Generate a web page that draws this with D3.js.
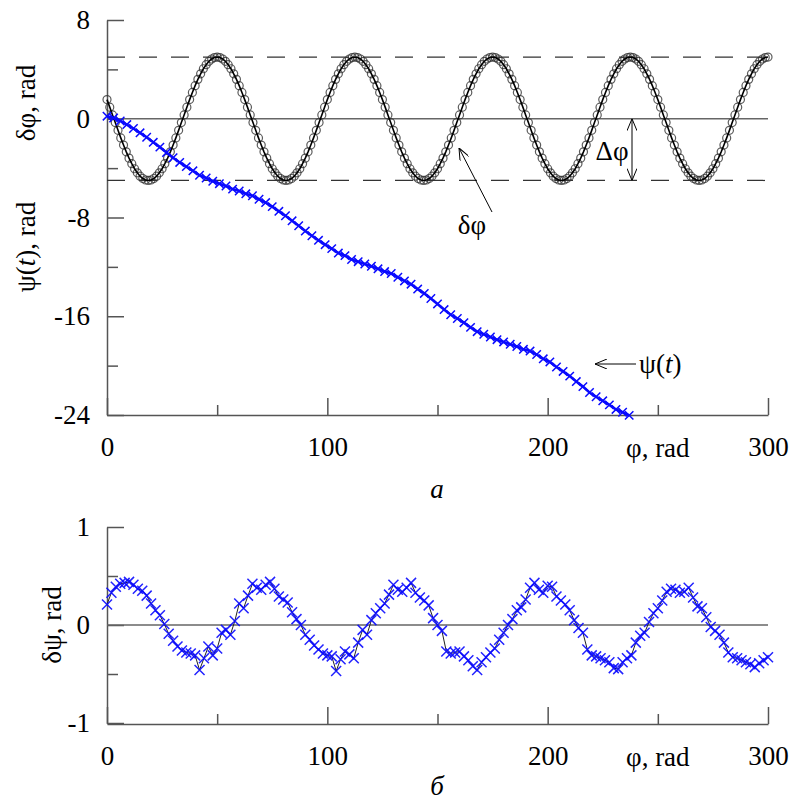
<!DOCTYPE html>
<html>
<head>
<meta charset="utf-8">
<script src="https://cdn.jsdelivr.net/npm/d3@7"></script>
<style>
  body { margin: 0; background: #fff; }
</style>
</head>
<body>
<div id="chart"></div>
<script>
// --- data ---

// delta phi, sampled every 1.25 rad from 0 to 300
var dphi = [
  1.55,0.94,0.31,-0.31,-0.94,-1.55,-2.13,-2.68,-3.19,-3.64,-4.05,-4.38,-4.65,-4.84,-4.96,-5.00,-4.96,-4.84,-4.65,-4.38,
  -4.05,-3.64,-3.19,-2.68,-2.13,-1.55,-0.94,-0.31,0.31,0.94,1.55,2.13,2.68,3.19,3.64,4.05,4.38,4.65,4.84,4.96,
  5.00,4.96,4.84,4.65,4.38,4.05,3.64,3.19,2.68,2.13,1.55,0.94,0.31,-0.31,-0.94,-1.55,-2.13,-2.68,-3.19,-3.64,
  -4.05,-4.38,-4.65,-4.84,-4.96,-5.00,-4.96,-4.84,-4.65,-4.38,-4.05,-3.64,-3.19,-2.68,-2.13,-1.55,-0.94,-0.31,0.31,0.94,
  1.55,2.13,2.68,3.19,3.64,4.05,4.38,4.65,4.84,4.96,
  5.00,4.96,4.84,4.65,4.38,4.05,3.64,3.19,2.68,2.13,1.55,0.94,0.31,-0.31,-0.94,-1.55,-2.13,-2.68,-3.19,-3.64,
  -4.05,-4.38,-4.65,-4.84,-4.96,-5.00,-4.96,-4.84,-4.65,-4.38,-4.05,-3.64,-3.19,-2.68,-2.13,-1.55,-0.94,-0.31,0.31,0.94,
  1.55,2.13,2.68,3.19,3.64,4.05,4.38,4.65,4.84,4.96,
  5.00,4.96,4.84,4.65,4.38,4.05,3.64,3.19,2.68,2.13,1.55,0.94,0.31,-0.31,-0.94,-1.55,-2.13,-2.68,-3.19,-3.64,
  -4.05,-4.38,-4.65,-4.84,-4.96,-5.00,-4.96,-4.84,-4.65,-4.38,-4.05,-3.64,-3.19,-2.68,-2.13,-1.55,-0.94,-0.31,0.31,0.94,
  1.55,2.13,2.68,3.19,3.64,4.05,4.38,4.65,4.84,4.96,
  5.00,4.96,4.84,4.65,4.38,4.05,3.64,3.19,2.68,2.13,1.55,0.94,0.31,-0.31,-0.94,-1.55,-2.13,-2.68,-3.19,-3.64,
  -4.05,-4.38,-4.65,-4.84,-4.96,-5.00,-4.96,-4.84,-4.65,-4.38,-4.05,-3.64,-3.19,-2.68,-2.13,-1.55,-0.94,-0.31,0.31,0.94,
  1.55,2.13,2.68,3.19,3.64,4.05,4.38,4.65,4.84,4.96,
  5.00
];
var dphiStep = 1.25;

// psi(t), every 3 rad from 0 to 237
var psi = [
  0.21,0.06,-0.18,-0.47,-0.79,-1.14,-1.50,-1.91,-2.30,-2.74,
  -3.16,-3.54,-3.88,-4.22,-4.58,-4.80,-5.06,-5.26,-5.45,-5.70,
  -5.85,-6.08,-6.24,-6.52,-6.79,-7.12,-7.50,-7.86,-8.27,-8.67,
  -9.10,-9.48,-9.85,-10.20,-10.52,-10.88,-11.09,-11.40,-11.58,-11.77,
  -11.95,-12.16,-12.38,-12.54,-12.84,-13.14,-13.40,-13.80,-14.15,-14.56,
  -15.00,-15.46,-15.88,-16.18,-16.52,-16.90,-17.25,-17.46,-17.68,-17.90,
  -18.08,-18.27,-18.45,-18.68,-18.82,-19.10,-19.45,-19.70,-20.11,-20.47,
  -20.85,-21.29,-21.70,-22.18,-22.52,-22.85,-23.18,-23.55,-23.78,-24.03
];
var psiStep = 3;

// delta psi, every 2 rad from 0 to 300
var dpsi = [
  0.21,0.33,0.39,0.42,0.43,0.44,0.41,0.37,0.35,0.30,
  0.22,0.15,0.10,0.01,-0.09,-0.16,-0.22,-0.26,-0.28,-0.29,
  -0.31,-0.46,-0.34,-0.22,-0.31,-0.24,-0.08,-0.05,-0.10,0.04,
  0.22,0.17,0.30,0.42,0.38,0.36,0.41,0.44,0.37,0.29,
  0.26,0.23,0.13,0.06,0.00,-0.10,-0.15,-0.21,-0.25,-0.29,
  -0.31,-0.32,-0.47,-0.35,-0.27,-0.30,-0.34,-0.18,-0.05,-0.10,
  0.05,0.12,0.17,0.22,0.31,0.41,0.36,0.34,0.38,0.43,
  0.33,0.28,0.25,0.20,0.07,0.00,-0.06,-0.27,-0.29,-0.28,
  -0.27,-0.32,-0.36,-0.42,-0.46,-0.38,-0.33,-0.28,-0.24,-0.15,
  -0.08,0.00,0.06,0.15,0.18,0.26,0.38,0.43,0.36,0.33,
  0.40,0.39,0.29,0.25,0.21,0.15,0.05,-0.03,-0.08,-0.25,
  -0.31,-0.32,-0.34,-0.36,-0.38,-0.44,-0.45,-0.38,-0.34,-0.31,
  -0.18,-0.11,-0.08,0.03,0.12,0.17,0.25,0.34,0.37,0.36,
  0.33,0.34,0.38,0.28,0.19,0.17,0.08,-0.02,-0.06,-0.10,
  -0.18,-0.28,-0.33,-0.34,-0.36,-0.38,-0.40,-0.43,-0.39,-0.36,
  -0.33
];
var dpsiStep = 2;

var xTicksMajor = [0, 100, 200, 300],
    xTicksMinor = [50, 150, 250];
var yTopMajor = [8, 0, -8, -16, -24],
    yTopMinor = [4, -4, -12, -20];
var yBotMajor = [1, 0, -1],
    yBotMinor = [0.5, -0.5];
var bounds = [-5, 5];   // dashed lines

// --- drawing ---
var w = 792, h = 808,
    serif = "'Liberation Serif', 'Times New Roman', 'DejaVu Serif', serif",
    fontSize = 27,
    blue = "#0a0aff";

var svg = d3.select("#chart").append("svg")
    .attr("width", w)
    .attr("height", h)
    .attr("font-family", serif);

var defs = svg.append("defs");
defs.append("marker")
    .attr("id", "arr")
    .attr("viewBox", "0 0 12 10")
    .attr("refX", 12).attr("refY", 5)
    .attr("markerWidth", 12).attr("markerHeight", 10)
    .attr("markerUnits", "userSpaceOnUse")
    .attr("orient", "auto-start-reverse")
    .append("path")
    .attr("d", "M0,0 L12,5 L0,10")
    .attr("fill", "none")
    .attr("stroke", "#000")
    .attr("stroke-width", 1);

var x = d3.scaleLinear().domain([0, 300]).range([107, 768]);
var yTop = d3.scaleLinear().domain([-24, 8]).range([415, 20]);
var yBot = d3.scaleLinear().domain([-1, 1]).range([723, 527]);

function styleAxis(g) {
    g.attr("font-family", serif).attr("font-size", fontSize);
    g.selectAll("text").attr("fill", "#000");
    g.selectAll("path, line").attr("stroke", "#555").attr("stroke-width", 1.5);
}
function fmt(d) { return String(d); }

function cross(px, py, a) {
    return "M" + (px - a) + "," + (py - a) + "L" + (px + a) + "," + (py + a) +
           "M" + (px - a) + "," + (py + a) + "L" + (px + a) + "," + (py - a);
}

function drawAxes(y, yMajor, yMinor, axisY) {
    // y axis
    svg.append("g")
        .attr("transform", "translate(107,0)")
        .call(d3.axisLeft(y).tickValues(yMajor).tickFormat(fmt)
              .tickSizeInner(-17).tickSizeOuter(0).tickPadding(17))
        .call(styleAxis);
    svg.append("g")
        .attr("transform", "translate(107,0)")
        .call(d3.axisLeft(y).tickValues(yMinor).tickFormat("")
              .tickSizeInner(-11).tickSizeOuter(0))
        .call(styleAxis)
        .select(".domain").remove();
    // x axis
    svg.append("g")
        .attr("transform", "translate(0," + axisY + ")")
        .call(d3.axisBottom(x).tickValues(xTicksMajor).tickFormat(fmt)
              .tickSizeInner(-17).tickSizeOuter(0).tickPadding(22))
        .call(styleAxis);
    svg.append("g")
        .attr("transform", "translate(0," + axisY + ")")
        .call(d3.axisBottom(x).tickValues(xTicksMinor).tickFormat("")
              .tickSizeInner(-10).tickSizeOuter(0))
        .call(styleAxis)
        .select(".domain").remove();
    // axis name sits where the 250 label would be
    svg.append("text")
        .attr("x", x(250)).attr("y", axisY + 42)
        .attr("text-anchor", "middle")
        .attr("font-size", fontSize)
        .text("φ, rad");
    // zero line
    svg.append("line")
        .attr("x1", x(0)).attr("x2", x(300))
        .attr("y1", y(0)).attr("y2", y(0))
        .attr("stroke", "#666").attr("stroke-width", 1.5);
}

/* panel a */
drawAxes(yTop, yTopMajor, yTopMinor, 415);

svg.selectAll("line.bound")
    .data(bounds)
    .enter().append("line")
    .attr("class", "bound")
    .attr("x1", x(0)).attr("x2", x(300))
    .attr("y1", yTop).attr("y2", yTop)
    .attr("stroke", "#333").attr("stroke-width", 1.2)
    .attr("stroke-dasharray", "18,14");

var lineTop = d3.line()
    .x(function(d) { return x(d[0]); })
    .y(function(d) { return yTop(d[1]); });

var dphiPts = dphi.map(function(v, i) { return [i * dphiStep, v]; });
var psiPts = psi.map(function(v, i) { return [i * psiStep, v]; });

svg.append("g").selectAll("circle")
    .data(dphiPts)
    .enter().append("circle")
    .attr("cx", function(d) { return x(d[0]); })
    .attr("cy", function(d) { return yTop(d[1]); })
    .attr("r", 4)
    .attr("fill", "none")
    .attr("stroke", "#333")
    .attr("stroke-opacity", 0.8)
    .attr("stroke-width", 1.2);

svg.append("path")
    .datum(dphiPts)
    .attr("d", lineTop)
    .attr("fill", "none")
    .attr("stroke", "#000")
    .attr("stroke-width", 1.6);

svg.append("path")
    .datum(psiPts)
    .attr("d", lineTop)
    .attr("fill", "none")
    .attr("stroke", blue)
    .attr("stroke-width", 2.6);

svg.append("g").selectAll("path")
    .data(psiPts)
    .enter().append("path")
    .attr("d", function(d) { return cross(x(d[0]), yTop(d[1]), 4.2); })
    .attr("stroke", blue)
    .attr("stroke-width", 1.5);

// y titles of panel a
svg.append("text")
    .attr("transform", "translate(35,103) rotate(-90)")
    .attr("text-anchor", "middle")
    .attr("font-size", fontSize)
    .text("δφ, rad");
var t2 = svg.append("text")
    .attr("transform", "translate(35,247) rotate(-90)")
    .attr("text-anchor", "middle")
    .attr("font-size", fontSize);
t2.append("tspan").text("ψ(");
t2.append("tspan").attr("font-style", "italic").text("t");
t2.append("tspan").text("), rad");

// annotations
svg.append("line")
    .attr("x1", 632).attr("x2", 632)
    .attr("y1", yTop(0)).attr("y2", yTop(-5))
    .attr("stroke", "#000").attr("stroke-width", 1)
    .attr("marker-start", "url(#arr)")
    .attr("marker-end", "url(#arr)");
svg.append("text")
    .attr("x", 612).attr("y", 160)
    .attr("text-anchor", "middle")
    .attr("font-size", fontSize)
    .text("Δφ");

svg.append("line")
    .attr("x1", 492).attr("y1", 212)
    .attr("x2", 459).attr("y2", 148)
    .attr("stroke", "#000").attr("stroke-width", 1)
    .attr("marker-end", "url(#arr)");
svg.append("text")
    .attr("x", 472).attr("y", 234)
    .attr("text-anchor", "middle")
    .attr("font-size", fontSize)
    .text("δφ");

svg.append("line")
    .attr("x1", 636).attr("y1", 364)
    .attr("x2", 595).attr("y2", 364)
    .attr("stroke", "#000").attr("stroke-width", 1)
    .attr("marker-end", "url(#arr)");
var t3 = svg.append("text")
    .attr("x", 639).attr("y", 373)
    .attr("font-size", fontSize);
t3.append("tspan").text("ψ(");
t3.append("tspan").attr("font-style", "italic").text("t");
t3.append("tspan").text(")");

svg.append("text")
    .attr("x", 437).attr("y", 498)
    .attr("text-anchor", "middle")
    .attr("font-size", fontSize)
    .attr("font-style", "italic")
    .text("a");

/* panel б */
drawAxes(yBot, yBotMajor, yBotMinor, 724);

var dpsiPts = dpsi.map(function(v, i) { return [i * dpsiStep, v]; });

svg.append("path")
    .datum(dpsiPts)
    .attr("d", d3.line()
        .x(function(d) { return x(d[0]); })
        .y(function(d) { return yBot(d[1]); }))
    .attr("fill", "none")
    .attr("stroke", "#222")
    .attr("stroke-width", 1);

svg.append("g").selectAll("path")
    .data(dpsiPts)
    .enter().append("path")
    .attr("d", function(d) { return cross(x(d[0]), yBot(d[1]), 5); })
    .attr("stroke", blue)
    .attr("stroke-opacity", 0.9)
    .attr("stroke-width", 1.5);

svg.append("text")
    .attr("transform", "translate(61,625) rotate(-90)")
    .attr("text-anchor", "middle")
    .attr("font-size", fontSize)
    .text("δψ, rad");

svg.append("text")
    .attr("x", 437).attr("y", 795)
    .attr("text-anchor", "middle")
    .attr("font-size", fontSize)
    .attr("font-style", "italic")
    .text("б");
</script>
</body>
</html>
